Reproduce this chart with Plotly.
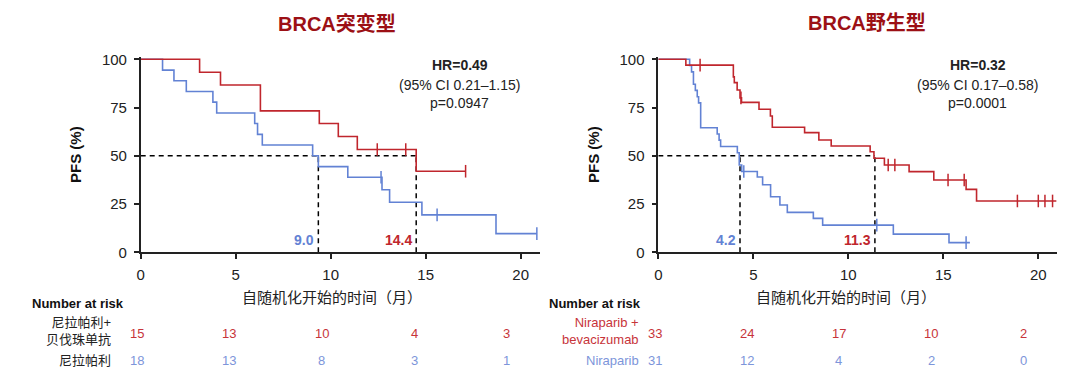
import numpy as np
import plotly.graph_objects as go

# ---------------- data ----------------
panel_titles = ["BRCA突变型", "BRCA野生型"]
hr_text = [["HR=0.49", "(95% CI 0.21–1.15)", "p=0.0947"],
           ["HR=0.32", "(95% CI 0.17–0.58)", "p=0.0001"]]

# BRCA mutated
mut_combo_t = [0, 3.1, 4.2, 6.3, 9.4, 10.4, 11.4, 14.5, 17.1]
mut_combo_s = [100, 93.3, 86.7, 73.3, 66.7, 60.0, 53.3, 42.0, 42.0]
mut_combo_cens = [12.45, 13.95, 17.1]

mut_mono_t = [0, 1.15, 1.75, 2.4, 3.8, 4.0, 6.0, 6.15, 6.4, 9.05, 9.35, 10.9, 12.7,
              13.1, 14.8, 18.7, 20.85]
mut_mono_s = [100, 94.4, 88.9, 83.3, 77.8, 72.2, 66.7, 61.1, 55.6, 50.0, 44.4, 38.9,
              32.4, 25.9, 19.4, 9.7, 9.7]
mut_mono_cens = [12.65, 15.6, 20.85]

# BRCA wild type
wt_combo_t = [0, 1.45, 3.95, 4.0, 4.15, 4.3, 4.38, 5.3, 5.9, 6.0, 7.7, 8.45, 9.1,
              11.15, 11.35, 11.9, 13.2, 14.5, 16.2, 16.75, 20.95]
wt_combo_s = [100, 97.0, 90.9, 87.9, 84.1, 80.0, 77.7, 74.1, 70.6, 64.8, 62.0, 58.2,
              55.1, 52.1, 48.7, 45.2, 41.8, 37.5, 32.6, 26.6, 26.6]
wt_combo_cens = [2.2, 4.35, 12.1, 12.45, 15.25, 16.1, 18.9, 20.0, 20.35, 20.75]

wt_mono_t = [0, 1.65, 1.75, 1.85, 1.95, 2.05, 2.12, 2.23, 3.1, 3.2, 3.28, 4.16, 4.26,
             4.39, 5.21, 5.49, 5.91, 6.4, 6.79, 8.16, 8.65, 12.37, 15.3, 16.4]
wt_mono_s = [100, 96.8, 93.5, 87.1, 83.9, 80.6, 77.4, 64.5, 61.3, 58.1, 54.8, 51.6,
             45.2, 41.9, 39.0, 35.0, 28.8, 24.5, 20.7, 17.6, 14.1, 9.4, 5.0, 5.0]
wt_mono_cens = [4.5, 11.5, 16.2]

# medians: (line position, label)
mut_medians = [(9.35, "9.0", "mono"), (14.5, "14.4", "combo")]
wt_medians = [(4.3, "4.2", "mono"), (11.4, "11.3", "combo")]

risk_times = [0, 5, 10, 15, 20]
mut_risk_combo = [15, 13, 10, 4, 3]
mut_risk_mono = [18, 13, 8, 3, 1]
wt_risk_combo = [33, 24, 17, 10, 2]
wt_risk_mono = [31, 12, 4, 2, 0]

risk_labels_mut = ["尼拉帕利+<br>贝伐珠单抗", "尼拉帕利"]
risk_labels_wt = ["Niraparib +<br>bevacizumab", "Niraparib"]
x_title = "自随机化开始的时间（月）"
y_title = "PFS (%)"

x_ticks = [0, 5, 10, 15, 20]
y_ticks = [0, 25, 50, 75, 100]

# ---------------- styles ----------------
RED = "#C0262D"
BLUE = "#6282D4"
RED_T = "#C7343A"
BLUE_T = "#7D95DA"
TITLE_C = "#9C1015"
FONT = "Liberation Sans, Arial, Noto Sans CJK SC, sans-serif"
W, H = 1080, 389


def px(xp):
    return xp / W


def py(yp):
    return 1 - yp / H


def step_val(ts, ss, t):
    i = np.searchsorted(np.array(ts), t, side="right") - 1
    return ss[max(i, 0)]


def note(x, y, text, size, color, xanchor="center", yanchor="middle", xref="paper", yref="paper", **kw):
    fig.add_annotation(x=x, y=y, xref=xref, yref=yref, text=text, showarrow=False,
                       xanchor=xanchor, yanchor=yanchor,
                       font=dict(family=FONT, size=size, color=color), **kw)


fig = go.Figure()

panels = [
    dict(xa="x", ya="y", combo=(mut_combo_t, mut_combo_s, mut_combo_cens),
         mono=(mut_mono_t, mut_mono_s, mut_mono_cens), med=mut_medians),
    dict(xa="x2", ya="y2", combo=(wt_combo_t, wt_combo_s, wt_combo_cens),
         mono=(wt_mono_t, wt_mono_s, wt_mono_cens), med=wt_medians),
]

for p in panels:
    xmax = max(m[0] for m in p["med"])
    fig.add_trace(go.Scatter(x=[0, xmax], y=[50, 50], mode="lines", xaxis=p["xa"], yaxis=p["ya"],
                             line=dict(color="black", width=1.5, dash="5px,4px"),
                             hoverinfo="skip", showlegend=False))
    for mx, lab, arm in p["med"]:
        fig.add_trace(go.Scatter(x=[mx, mx], y=[0, 50], mode="lines", xaxis=p["xa"], yaxis=p["ya"],
                                 line=dict(color="black", width=1.5, dash="5px,4px"),
                                 hoverinfo="skip", showlegend=False))
        note(mx, 0, "<b>%s</b>" % lab, 14, RED if arm == "combo" else BLUE,
             xanchor="right", yanchor="bottom", xref=p["xa"], yref=p["ya"], xshift=-2, yshift=2)
    for key, col in (("mono", BLUE), ("combo", RED)):
        ts, ss, cens = p[key]
        fig.add_trace(go.Scatter(x=ts, y=ss, mode="lines", line_shape="hv", xaxis=p["xa"], yaxis=p["ya"],
                                 line=dict(color=col, width=1.6), showlegend=False))
        fig.add_trace(go.Scatter(x=cens, y=[step_val(ts, ss, c) for c in cens], mode="markers",
                                 xaxis=p["xa"], yaxis=p["ya"], cliponaxis=False,
                                 marker=dict(symbol="line-ns", size=9, line=dict(color=col, width=1.5)),
                                 showlegend=False))

axis_common = dict(range=[0, 21], tickvals=x_ticks, showgrid=False, zeroline=False, automargin=False,
                   showline=True, linecolor="#222", linewidth=1.5, ticks="outside", ticklen=5,
                   tickwidth=1.5, tickcolor="#222", tickfont=dict(family=FONT, size=15, color="#222"),
                   ticklabelstandoff=3)
yaxis_common = dict(range=[0, 101], tickvals=y_ticks, showgrid=False, zeroline=False, automargin=False,
                    showline=True, linecolor="#222", linewidth=1.5, ticks="outside", ticklen=5,
                    tickwidth=1.5, tickcolor="#222", tickfont=dict(family=FONT, size=15, color="#222"),
                    ticklabelstandoff=4)

y_top = 252.3 - 101 * 1.93
fig.update_layout(
    template="none",
    width=W, height=H, autosize=False, margin=dict(l=0, r=0, t=0, b=0, pad=0),
    paper_bgcolor="white", plot_bgcolor="white", showlegend=False,
    xaxis=dict(domain=[px(140.7), px(140.7 + 21 * 19)], anchor="y", **axis_common),
    yaxis=dict(domain=[py(252.3), py(y_top)], anchor="x", **yaxis_common),
    xaxis2=dict(domain=[px(658.3), px(658.3 + 21 * 19)], anchor="y2", **axis_common),
    yaxis2=dict(domain=[py(252.3), py(y_top)], anchor="x2", **yaxis_common),
)

# titles, HR text, axis titles
for i, (xa, cx, ylab_x, xtitle_x) in enumerate([("x", 337, 75, 332), ("x2", 867, 593, 846)]):
    note(px(cx), py(23), "<b>%s</b>" % panel_titles[i], 20, TITLE_C)
    for j, (txt, yv) in enumerate(zip(hr_text[i], [65, 85, 102.5])):
        note(16.8, py(yv), ("<b>%s</b>" % txt) if j == 0 else txt, 14, "#222", xref=xa)
    note(px(ylab_x), py(155), "<b>%s</b>" % y_title, 15, "#111", textangle=-90)
    note(px(xtitle_x), py(297), x_title, 15, "#222")

# risk tables
tables = [
    dict(nar_x=30, lab_r=113.3, x0=136.7, dx=92.5, combo=mut_risk_combo, mono=mut_risk_mono,
         labels=risk_labels_mut, lab_cols=["#222", "#222"]),
    dict(nar_x=547.3, lab_r=640.5, x0=654.5, dx=92.2, combo=wt_risk_combo, mono=wt_risk_mono,
         labels=risk_labels_wt, lab_cols=[RED_T, BLUE_T]),
]
for tb in tables:
    note(px(tb["nar_x"]), py(303.3), "<b>Number at risk</b>", 13, "#111", xanchor="left")
    note(px(tb["lab_r"]), py(331), tb["labels"][0], 13, tb["lab_cols"][0], xanchor="right", align="right")
    note(px(tb["lab_r"]), py(360.7), tb["labels"][1], 13, tb["lab_cols"][1], xanchor="right", align="right")
    for k, t in enumerate(risk_times):
        xc = tb["x0"] + tb["dx"] * t / 5
        note(px(xc), py(333.3), str(tb["combo"][k]), 13, RED_T)
        note(px(xc), py(360.7), str(tb["mono"][k]), 13, BLUE_T)

fig.write_html("out.html", config={"displayModeBar": False},
               post_script="document.body.style.margin='0';document.body.style.overflow='hidden';")
